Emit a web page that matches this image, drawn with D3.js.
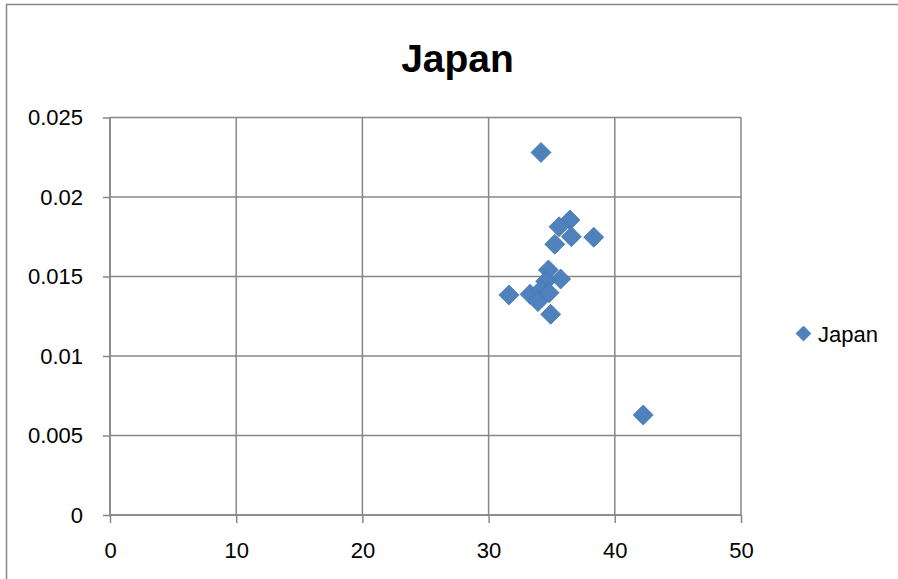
<!DOCTYPE html>
<html>
<head>
<meta charset="utf-8">
<script src="https://cdn.jsdelivr.net/npm/d3@7"></script>
<style>
  html, body { margin: 0; padding: 0; background: #fff; }
  svg { display: block; font-family: "Liberation Sans", Arial, sans-serif; }
</style>
</head>
<body>
<svg id="chart" width="898" height="579"></svg>
<script>
const chartTitle = "Japan";
const seriesName = "Japan";
const xValues = [34.15, 36.45, 35.58, 36.56, 38.33, 35.24, 34.74, 35.71, 31.61, 33.28, 34.52, 34.13, 34.79, 33.91, 34.92, 42.25];
const yValues = [0.0228, 0.01855, 0.01813, 0.0175, 0.01747, 0.01703, 0.01541, 0.01484, 0.01384, 0.01388, 0.0147, 0.01415, 0.01398, 0.01342, 0.01262, 0.00629];
const xTicks = [0, 10, 20, 30, 40, 50];
const yTicks = [0, 0.005, 0.01, 0.015, 0.02, 0.025];
const yTickLabels = ["0", "0.005", "0.01", "0.015", "0.02", "0.025"];

(function () {
const svg = d3.select("#chart");
const pLeft = 110, pRight = 741, pTop = 117.5, pBottom = 515;
const gridColor = "#878787";

// outer chart border (extends beyond window on right/bottom)
svg.append("rect").attr("x", 6.5).attr("y", 4.5).attr("width", 1000).attr("height", 1000)
  .attr("fill", "none").attr("stroke", "#868686").attr("stroke-width", 1.5);

const x = d3.scaleLinear().domain([0, 50]).range([pLeft, pRight]);
const y = d3.scaleLinear().domain([0, 0.025]).range([pBottom, pTop]);

// gridlines
svg.append("g").selectAll("line").data(yTicks).join("line")
  .attr("x1", pLeft).attr("x2", pRight).attr("y1", d => y(d)).attr("y2", d => y(d))
  .attr("stroke", gridColor).attr("stroke-width", 1.5);
svg.append("g").selectAll("line").data(xTicks).join("line")
  .attr("x1", d => x(d)).attr("x2", d => x(d)).attr("y1", pTop).attr("y2", pBottom)
  .attr("stroke", gridColor).attr("stroke-width", 1.5);

// axes
const yAxis = d3.axisLeft(y).tickValues(yTicks).tickSize(7).tickPadding(20)
  .tickFormat((d, i) => yTickLabels[i]);
const gy = svg.append("g").attr("transform", `translate(${pLeft},0)`).call(yAxis);
const xAxis = d3.axisBottom(x).tickValues(xTicks).tickSize(8).tickPadding(19);
const gx = svg.append("g").attr("transform", `translate(0,${pBottom})`).call(xAxis);
[gy, gx].forEach(g => {
  g.select(".domain").attr("stroke", gridColor).attr("stroke-width", 1.5);
  g.selectAll(".tick line").attr("stroke", gridColor).attr("stroke-width", 1.5);
  g.selectAll(".tick text").attr("fill", "#000").attr("font-size", 22)
    .attr("font-family", "'Liberation Sans', Arial, sans-serif");
});
gy.select(".domain").attr("d", `M0,${pTop}V${pBottom}`);
gx.select(".domain").attr("d", `M${pLeft},0H${pRight}`);

// points
const data = xValues.map((v, i) => ({ x: v, y: yValues[i] }));
const diamond = d3.symbol().type(d3.symbolSquare).size(200);
svg.append("g").selectAll("path").data(data).join("path")
  .attr("d", diamond())
  .attr("transform", d => `translate(${x(d.x)},${y(d.y)}) rotate(45)`)
  .attr("fill", "#4F81BD").attr("stroke", "#4575B0").attr("stroke-width", 0.75);

// title
svg.append("text").attr("x", 457.5).attr("y", 72).attr("text-anchor", "middle")
  .attr("font-size", 39).attr("font-weight", "bold").attr("fill", "#000").text(chartTitle);

// legend
svg.append("path").attr("d", d3.symbol().type(d3.symbolSquare).size(110)())
  .attr("transform", "translate(803.5,333.5) rotate(45)")
  .attr("fill", "#4F81BD").attr("stroke", "#4575B0").attr("stroke-width", 0.75);
svg.append("text").attr("x", 818).attr("y", 341.5).attr("font-size", 22)
  .attr("fill", "#000").text(seriesName);
})();
</script>
</body>
</html>
